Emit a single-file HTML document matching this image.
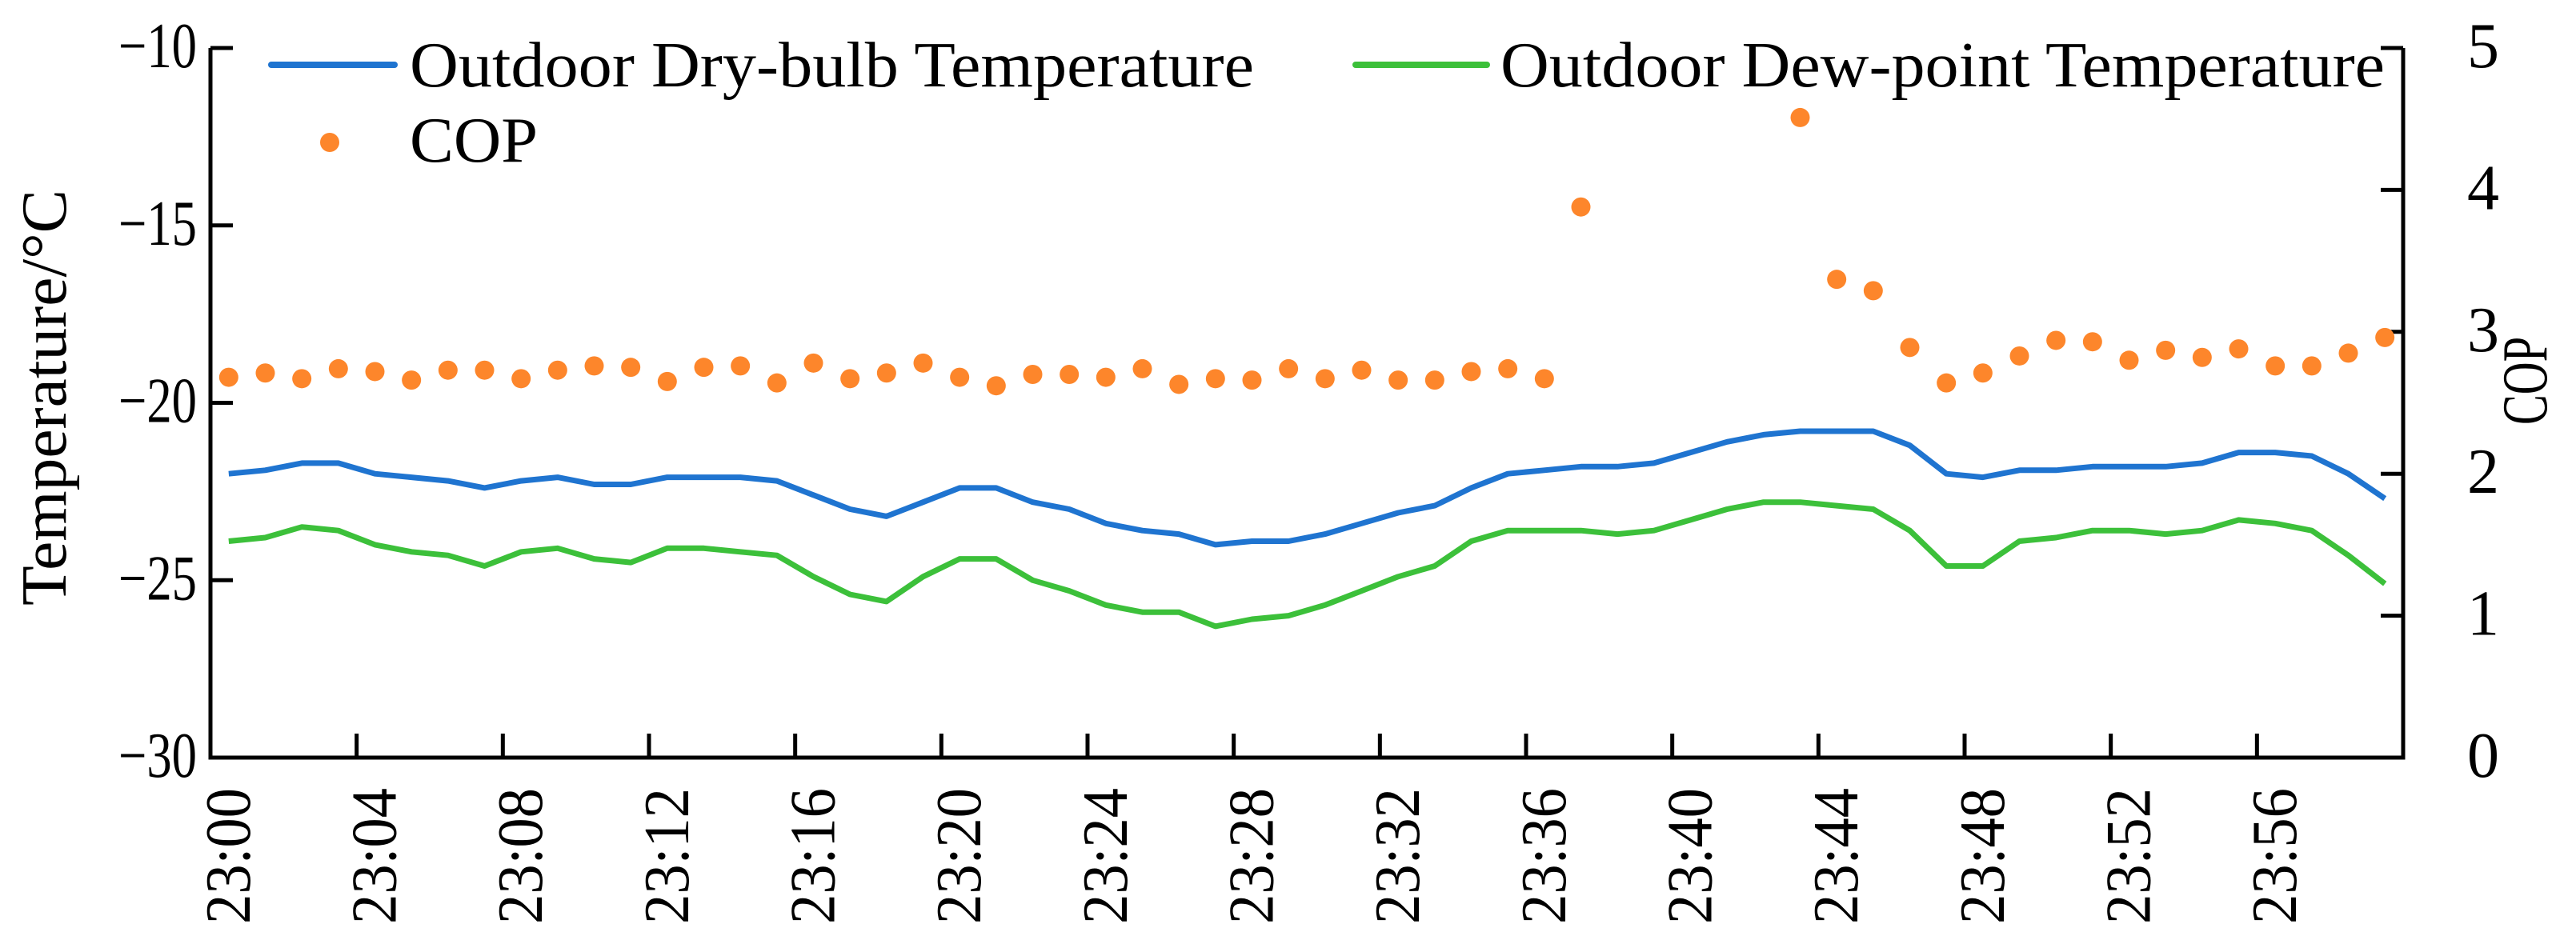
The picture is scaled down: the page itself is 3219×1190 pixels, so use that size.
<!DOCTYPE html>
<html><head><meta charset="utf-8"><style>
html,body{margin:0;padding:0;background:#fff;}
svg{display:block;font-family:"Liberation Serif",serif;}
</style></head><body>
<svg id="chart" width="3219" height="1190" viewBox="0 0 3219 1190" xmlns="http://www.w3.org/2000/svg">
<g id="axes"></g>
<g id="series"></g>
<g id="legend">
  <line x1="339" y1="81" x2="493" y2="81" stroke="#1f74d0" stroke-width="8" stroke-linecap="round"/>
  <text x="512" y="108" font-size="80" textLength="1055" lengthAdjust="spacingAndGlyphs">Outdoor Dry-bulb Temperature</text>
  <line x1="1694" y1="81" x2="1858" y2="81" stroke="#3cc03a" stroke-width="8" stroke-linecap="round"/>
  <text x="1875" y="108" font-size="80" textLength="1105" lengthAdjust="spacingAndGlyphs">Outdoor Dew-point Temperature</text>
  <circle cx="412" cy="178" r="12" fill="#fd862b"/>
  <text x="512" y="202" font-size="80" textLength="160" lengthAdjust="spacingAndGlyphs">COP</text>
</g>
<text transform="translate(82,497) rotate(-90)" text-anchor="middle" font-size="80" textLength="520" lengthAdjust="spacingAndGlyphs">Temperature/°C</text>
<text transform="translate(3182,476) rotate(-90)" text-anchor="middle" font-size="80" textLength="110" lengthAdjust="spacingAndGlyphs">COP</text>
</svg>
<script>
const minutes = ["23:00","23:01","23:02","23:03","23:04","23:05","23:06","23:07","23:08","23:09","23:10","23:11","23:12","23:13","23:14","23:15","23:16","23:17","23:18","23:19","23:20","23:21","23:22","23:23","23:24","23:25","23:26","23:27","23:28","23:29","23:30","23:31","23:32","23:33","23:34","23:35","23:36","23:37","23:38","23:39","23:40","23:41","23:42","23:43","23:44","23:45","23:46","23:47","23:48","23:49","23:50","23:51","23:52","23:53","23:54","23:55","23:56","23:57","23:58","23:59"];
const dryBulb = [-22.0,-21.9,-21.7,-21.7,-22.0,-22.1,-22.2,-22.4,-22.2,-22.1,-22.3,-22.3,-22.1,-22.1,-22.1,-22.2,-22.6,-23.0,-23.2,-22.8,-22.4,-22.4,-22.8,-23.0,-23.4,-23.6,-23.7,-24.0,-23.9,-23.9,-23.7,-23.4,-23.1,-22.9,-22.4,-22.0,-21.9,-21.8,-21.8,-21.7,-21.4,-21.1,-20.9,-20.8,-20.8,-20.8,-21.2,-22.0,-22.1,-21.9,-21.9,-21.8,-21.8,-21.8,-21.7,-21.4,-21.4,-21.5,-22.0,-22.7];
const dewPoint = [-23.9,-23.8,-23.5,-23.6,-24.0,-24.2,-24.3,-24.6,-24.2,-24.1,-24.4,-24.5,-24.1,-24.1,-24.2,-24.3,-24.9,-25.4,-25.6,-24.9,-24.4,-24.4,-25.0,-25.3,-25.7,-25.9,-25.9,-26.3,-26.1,-26.0,-25.7,-25.3,-24.9,-24.6,-23.9,-23.6,-23.6,-23.6,-23.7,-23.6,-23.3,-23.0,-22.8,-22.8,-22.9,-23.0,-23.6,-24.6,-24.6,-23.9,-23.8,-23.6,-23.6,-23.7,-23.6,-23.3,-23.4,-23.6,-24.3,-25.1];
const cop = [2.68,2.71,2.67,2.74,2.72,2.66,2.73,2.73,2.67,2.73,2.76,2.75,2.65,2.75,2.76,2.64,2.78,2.67,2.71,2.78,2.68,2.62,2.70,2.70,2.68,2.74,2.63,2.67,2.66,2.74,2.67,2.73,2.66,2.66,2.72,2.74,2.67,3.88,null,null,null,null,null,4.51,3.37,3.29,2.89,2.64,2.71,2.83,2.94,2.93,2.80,2.87,2.82,2.88,2.76,2.76,2.85,2.96];
const leftTicks = [-30,-25,-20,-15,-10];
const rightTicks = [0,1,2,3,4,5];

const NS="http://www.w3.org/2000/svg";
const L=263,R=3003,T=60,B=947;
const bw=(R-L)/minutes.length;
const xc=i=>L+bw*(i+0.5);
const yT=v=>B-(v-(-30))/20*(B-T);
const yC=v=>B-v/5*(B-T);
function mk(tag,attrs,parent){const e=document.createElementNS(NS,tag);for(const k in attrs)e.setAttribute(k,attrs[k]);parent.appendChild(e);return e;}
const axes=document.getElementById('axes'), series=document.getElementById('series');

let e=mk('path',{d:`M${L},${T} V${B} H${R} V${T}`,fill:'none',stroke:'#000','stroke-width':5},axes);


leftTicks.forEach(v=>{
  let t=mk('line',{x1:L,x2:L+28,y1:yT(v),y2:yT(v),stroke:'#000','stroke-width':5},axes);
  
  
  let l=mk('text',{x:246,y:yT(v)+24,'text-anchor':'end','font-size':80,textLength:98,lengthAdjust:'spacingAndGlyphs'},axes);
  l.textContent=(v<0?'\u2212'+(-v):v);
  
  
});
rightTicks.forEach(v=>{
  let t=mk('line',{x1:R-28,x2:R,y1:yC(v),y2:yC(v),stroke:'#000','stroke-width':5},axes);
  
  
  let l=mk('text',{x:3103,y:yC(v)+24,'text-anchor':'middle','font-size':80},axes);
  l.textContent=v;
  
  
});
minutes.forEach((m,i)=>{
  if(i%4!==0)return;
  if(i>0){
    let t=mk('line',{x1:L+bw*i,x2:L+bw*i,y1:B,y2:B-30,stroke:'#000','stroke-width':5},axes);
    
    
  }
  let l=mk('text',{transform:`translate(${xc(i)+26},${B+38}) rotate(-90)`,'text-anchor':'end','font-size':80,textLength:170,lengthAdjust:'spacingAndGlyphs'},axes);
  l.textContent=m;
  
  
});
function line(data,color,name){
  const d=data.map((v,i)=>(i?'L':'M')+xc(i).toFixed(1)+','+yT(v).toFixed(1)).join(' ');
  let p=mk('path',{d,fill:'none',stroke:color,'stroke-width':7,'stroke-linejoin':'round'},series);
  
  
}
line(dryBulb,'#1f74d0','dry-bulb-line');
line(dewPoint,'#3cc03a','dew-point-line');
cop.forEach((v,i)=>{
  if(v===null)return;
  let c=mk('circle',{cx:xc(i),cy:yC(v),r:12,fill:'#fd862b'},series);
  
  
});
</script>
</body></html>
